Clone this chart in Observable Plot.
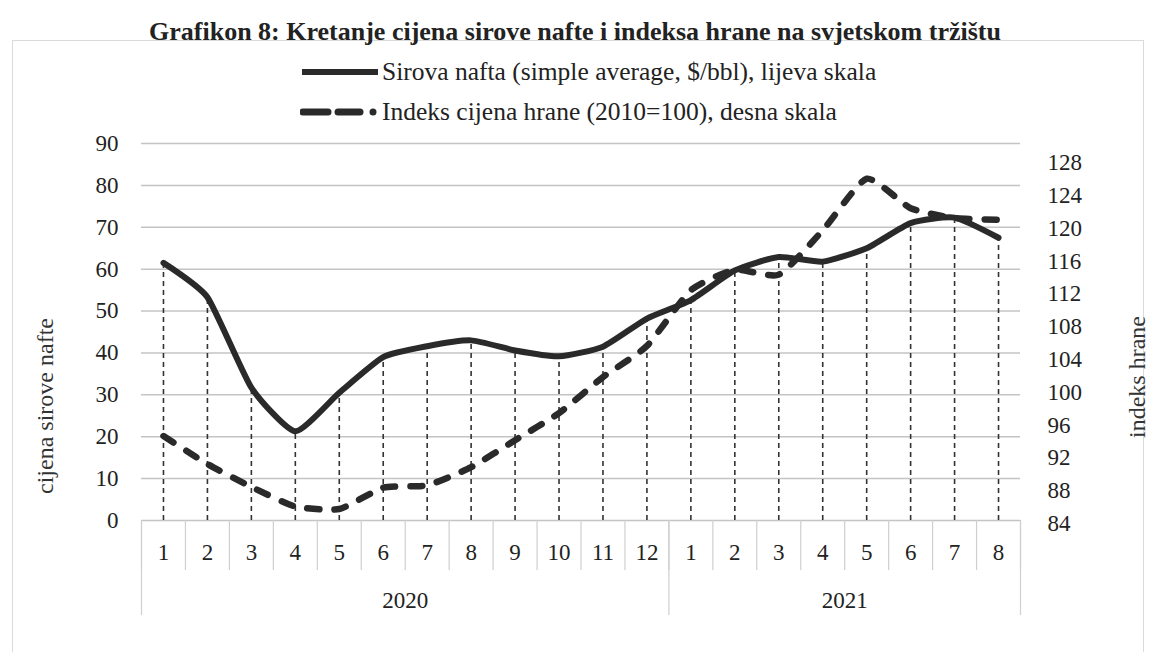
<!DOCTYPE html>
<html><head><meta charset="utf-8">
<script src="https://cdn.jsdelivr.net/npm/d3@7"></script>
<script src="https://cdn.jsdelivr.net/npm/@observablehq/plot@0.6"></script>
<style>
body{margin:0;background:#fff;font-family:"Liberation Serif","Times New Roman",serif;color:#222;}
#wrap{position:relative;width:1150px;height:652px;overflow:hidden;}
#frame{position:absolute;left:12px;top:40px;width:1130px;height:640px;border:1px solid #dadada;}
#title{position:absolute;top:16px;left:0;width:1150px;text-align:center;font-weight:bold;font-size:26px;line-height:32px;}
.leg{position:absolute;left:300px;font-size:25.5px;line-height:30px;display:flex;align-items:center;white-space:nowrap;}
.leg svg{margin-right:2px;}
#chart{position:absolute;top:130px;left:0;}
#chart svg, #chart svg text{font-family:"Liberation Serif","Times New Roman",serif !important;}
</style></head><body>
<div id="wrap">
<div id="frame"></div>
<div id="title">Grafikon 8: Kretanje cijena sirove nafte i indeksa hrane na svjetskom tržištu</div>
<div class="leg" style="top:57px"><svg width="80" height="14"><line x1="2" x2="78" y1="7" y2="7" stroke="#2a2a2a" stroke-width="6"/></svg><span id="l1"></span></div>
<div class="leg" style="top:97px"><svg width="80" height="14"><line x1="3" x2="28" y1="7" y2="7" stroke="#2a2a2a" stroke-width="7" stroke-linecap="round"/><line x1="38" x2="60" y1="7" y2="7" stroke="#2a2a2a" stroke-width="7" stroke-linecap="round"/><circle cx="73" cy="7" r="3.5" fill="#2a2a2a"/></svg><span id="l2"></span></div>
<div id="chart"></div>
</div>
<script>
const months = ["1","2","3","4","5","6","7","8","9","10","11","12","1","2","3","4","5","6","7","8"];
const years = ["2020","2021"];
const yearMonthCounts = [12, 8];
const oil = [61.5, 53.3, 31.7, 21.3, 30.5, 39.0, 41.6, 43.0, 40.6, 39.2, 41.5, 48.2, 52.6, 59.7, 62.9, 61.8, 65.0, 71.0, 72.3, 67.5];
const food = [94.3, 90.9, 88.1, 85.7, 85.4, 88.0, 88.3, 90.5, 93.8, 97.1, 101.5, 105.3, 112.1, 114.6, 114.0, 119.4, 125.7, 122.1, 120.9, 120.7];
const oilName = "Sirova nafta (simple average, $/bbl), lijeva skala";
const foodName = "Indeks cijena hrane (2010=100), desna skala";
const leftTitle = "cijena sirove nafte";
const rightTitle = "indeks hrane";
const leftTicks = d3.range(0, 91, 10);
const rightTicks = d3.range(84, 129, 4);
const leftDomain = [0, 90];
const rightDomain = [84, 130];

document.getElementById("l1").textContent = oilName;
document.getElementById("l2").textContent = foodName;

const toL = v => (v - rightDomain[0]) / (rightDomain[1] - rightDomain[0]) * (leftDomain[1] - leftDomain[0]) + leftDomain[0];
const fromL = v => (v - leftDomain[0]) / (leftDomain[1] - leftDomain[0]) * (rightDomain[1] - rightDomain[0]) + rightDomain[0];

const idx = d3.range(months.length);
const n = months.length;
const boundaries = d3.range(-0.5, n, 1);
let acc = 0;
const yearBounds = [-0.5];
const yearCenters = [];
yearMonthCounts.forEach(c => { yearCenters.push(acc + (c - 1) / 2); acc += c; yearBounds.push(acc - 0.5); });

const ink = "#2a2a2a";
const serif = "Liberation Serif";
const smooth = d3.curveCardinal.tension(0.45);
const chart = Plot.plot({
  width: 1150,
  height: 522,
  marginTop: 13,
  marginBottom: 132,
  marginLeft: 141,
  marginRight: 130,
  style: "font-family: 'Liberation Serif', 'Times New Roman', serif; font-size: 23px; color: #222; background: transparent;",
  x: {type: "linear", domain: [-0.5, n - 0.5]},
  y: {domain: leftDomain},
  marks: [
    Plot.gridY({ticks: leftTicks.filter(d => d > 0), stroke: "#c4c4c4", strokeOpacity: 1, strokeWidth: 1.5}),
    Plot.ruleY([0], {stroke: "#c4c4c4", strokeWidth: 1.5}),
    Plot.axisX({ticks: boundaries, tickSize: 50, tickFormat: () => "", stroke: "#cfcfcf", strokeWidth: 1.2}),
    Plot.axisX({ticks: yearBounds, tickSize: 95, tickFormat: () => "", stroke: "#cfcfcf", strokeWidth: 1.2}),
    Plot.axisX({ticks: idx, tickSize: 0, tickPadding: 23, tickFormat: i => months[i], fontSize: 23, fontFamily: serif}),
    Plot.axisX({ticks: yearCenters, tickSize: 0, tickPadding: 71, tickFormat: (d, k) => years[k], fontSize: 23, fontFamily: serif}),
    Plot.axisY({ticks: leftTicks, tickSize: 0, tickPadding: 23, label: null, fontSize: 23, fontFamily: serif}),
    Plot.axisY({anchor: "right", ticks: rightTicks.map(toL), tickSize: 0, tickPadding: 27, label: null, fontSize: 23, fontFamily: serif, tickFormat: d => String(Math.round(fromL(d))), dy: 3}),
    Plot.text([leftTitle], {frameAnchor: "left", textAnchor: "middle", dx: -96, dy: 74, rotate: -90, text: d => d, fontSize: 24, fontFamily: serif, fill: "#333"}),
    Plot.text([rightTitle], {frameAnchor: "right", textAnchor: "middle", dx: 117, dy: 45, rotate: -90, text: d => d, fontSize: 24, fontFamily: serif, fill: "#333"}),
    Plot.ruleX(idx, {x: i => i, y1: 0, y2: i => oil[i], stroke: "#333", strokeWidth: 1.6, strokeDasharray: "5,4"}),
    Plot.line(idx, {x: i => i, y: i => oil[i], stroke: ink, strokeWidth: 6, curve: smooth}),
    Plot.line(idx, {x: i => i, y: i => toL(food[i]), stroke: ink, strokeWidth: 6.5, curve: smooth, strokeDasharray: "12,15", strokeLinecap: "round"})
  ]
});
document.getElementById("chart").appendChild(chart);
</script>
</body></html>
